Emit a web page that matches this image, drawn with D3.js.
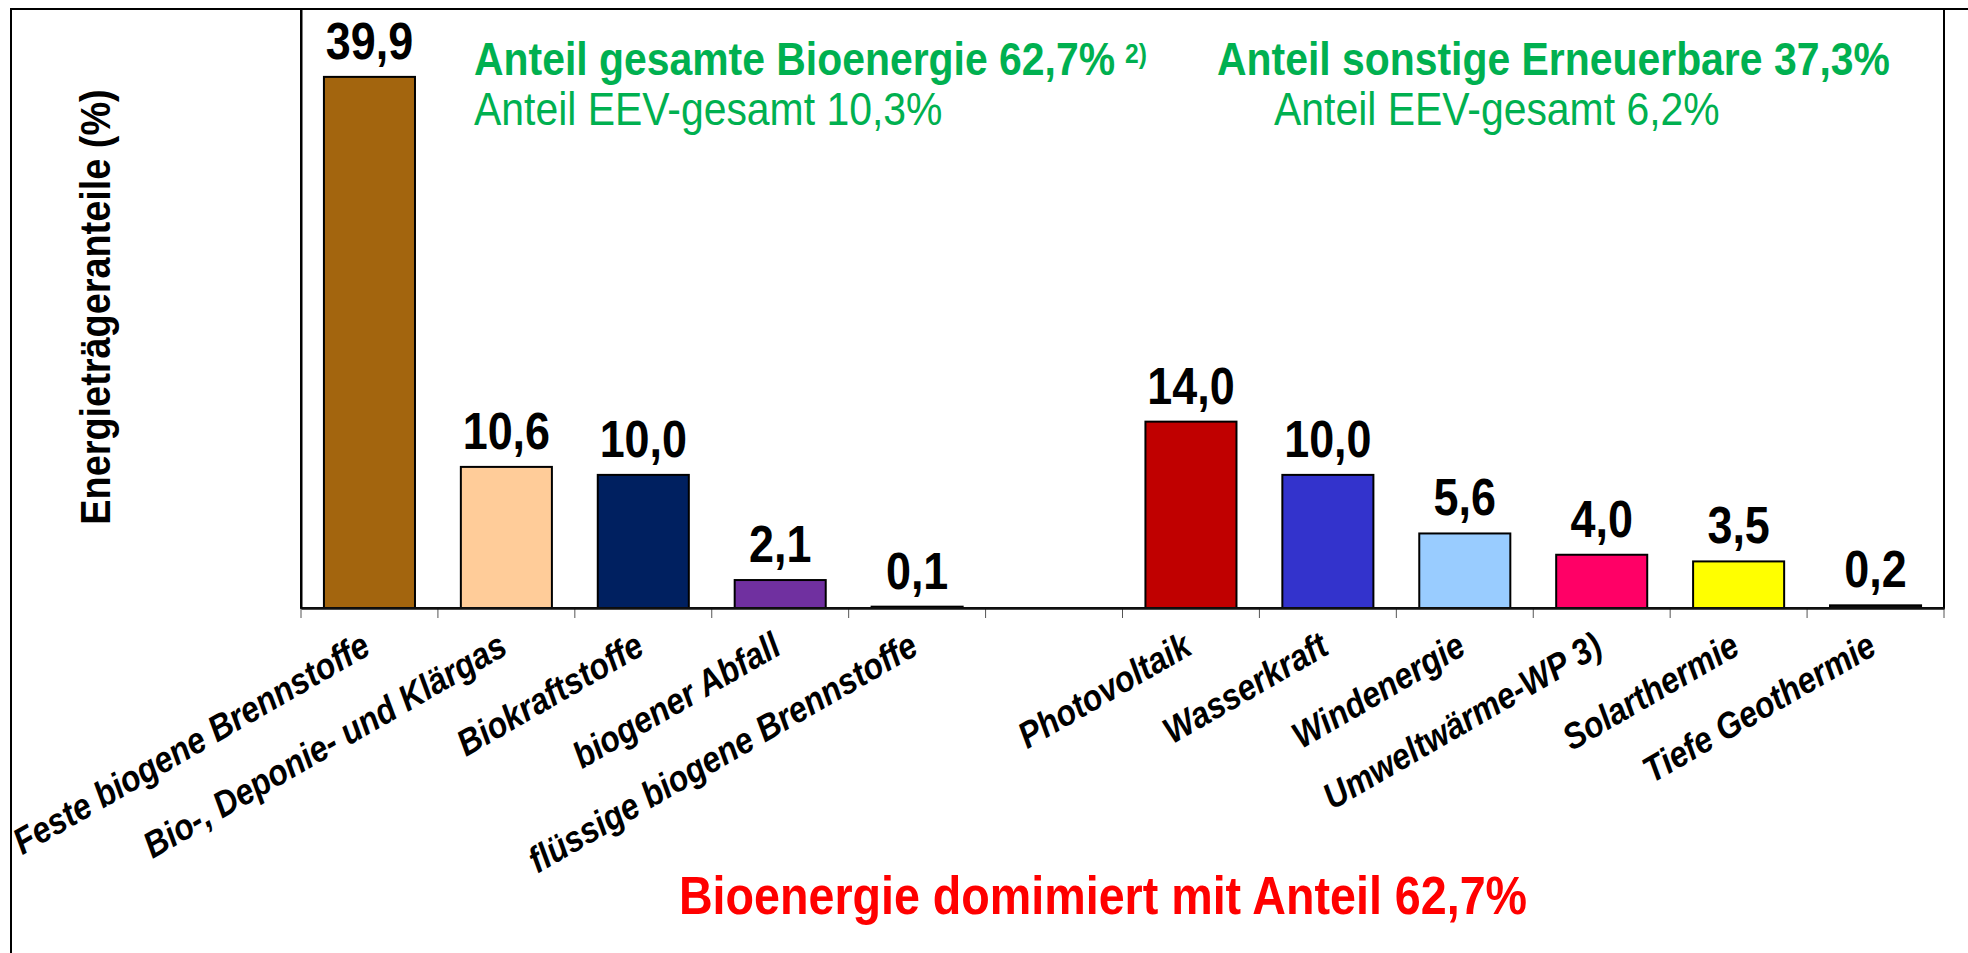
<!DOCTYPE html>
<html>
<head>
<meta charset="utf-8">
<script src="https://cdn.jsdelivr.net/npm/d3@7"></script>
<style>
  body { margin: 0; background: #fff; }
  text { font-family: "Liberation Sans", Arial, sans-serif; }
</style>
</head>
<body>
<div id="chart"></div>
<script>
// Values
var bioCategories = ["Feste biogene Brennstoffe", "Bio-, Deponie- und Klärgas", "Biokraftstoffe",
                     "biogener Abfall", "flüssige biogene Brennstoffe"];
var bioValues = [39.9, 10.6, 10.0, 2.1, 0.1];
var bioColors = ["#A3650E", "#FFCC99", "#002060", "#7030A0", "#333333"];

var otherCategories = ["Photovoltaik", "Wasserkraft", "Windenergie", "Umweltwärme-WP 3)",
                       "Solarthermie", "Tiefe Geothermie"];
var otherValues = [14.0, 10.0, 5.6, 4.0, 3.5, 0.2];
var otherColors = ["#C00000", "#3333CC", "#99CCFF", "#FF0066", "#FFFF00", "#111111"];

// the original text is a bit taller than plain Arial, so squeeze horizontally
var squeeze = 0.88;

window.onload = function() {
    // one table for the bars, with an empty slot between the two groups
    var rows = [];
    bioCategories.forEach(function(c, i) {
        rows.push({ key: "b" + i, label: c, value: bioValues[i], color: bioColors[i] });
    });
    rows.push({ key: "gap", label: "", value: null, color: "none" });
    otherCategories.forEach(function(c, i) {
        rows.push({ key: "o" + i, label: c, value: otherValues[i], color: otherColors[i] });
    });
    barChart(rows);
};

// adds a text at (x, y), squeezed, optionally rotated
function addText(svg, x, y, str, size, opts) {
    opts = opts || {};
    var t = svg.append("text")
       .attr("transform", "translate(" + x + "," + y + ")" +
             (opts.rotate ? " rotate(" + opts.rotate + ")" : "") +
             " scale(" + squeeze + ",1)")
       .attr("text-anchor", opts.anchor || "start")
       .attr("fill", opts.color || "#000")
       .style("font-size", size + "px")
       .style("font-weight", opts.bold ? "bold" : "normal")
       .text(str);
    return t;
}

function barChart(rows) {
    var w = 1968;
    var h = 953;
    var left = 301, right = 1944, top = 9, axisY = 608;

    var svg = d3.select("#chart")
                .append("svg")
                .attr("width", w)
                .attr("height", h);

    var x = d3.scaleBand()
              .domain(rows.map(function(d) { return d.key; }))
              .range([left, right])
              .paddingInner(0.335)
              .paddingOuter(0.1675);

    var y = d3.scaleLinear()
              .domain([0, 45])
              .range([axisY, top]);

    // outer frame (left and top edges visible)
    svg.append("path")
       .attr("d", "M11," + h + " V9 H" + w)
       .attr("fill", "none")
       .attr("stroke", "#000")
       .attr("stroke-width", 2);

    // plot area border
    svg.append("rect")
       .attr("x", left)
       .attr("y", top)
       .attr("width", right - left)
       .attr("height", axisY - top)
       .attr("fill", "none")
       .attr("stroke", "#000")
       .attr("stroke-width", 2);

    // tick marks between the categories
    var step = x.step();
    var bounds = rows.map(function(d) { return x(d.key) - (step - x.bandwidth()) / 2; });
    bounds.push(right);
    svg.selectAll("line.tick")
       .data(bounds)
       .enter()
       .append("line")
       .attr("class", "tick")
       .attr("x1", function(d) { return d; })
       .attr("x2", function(d) { return d; })
       .attr("y1", axisY)
       .attr("y2", axisY + 10)
       .attr("stroke", "#555")
       .attr("stroke-width", 1);

    var bars = rows.filter(function(d) { return d.value !== null; });

    svg.selectAll("rect.bar")
       .data(bars)
       .enter()
       .append("rect")
       .attr("class", "bar")
       .attr("x", function(d) { return x(d.key); })
       .attr("y", function(d) { return y(d.value); })
       .attr("width", x.bandwidth())
       .attr("height", function(d) { return axisY - y(d.value); })
       .attr("fill", function(d) { return d.color; })
       .attr("stroke", "#000")
       .attr("stroke-width", 2);

    // x axis line and category labels
    var xAxis = d3.axisBottom(x)
                  .tickSize(0)
                  .tickFormat(function(k) {
                      var r = rows.find(function(d) { return d.key === k; });
                      return r.label;
                  });
    var gx = svg.append("g")
                .attr("transform", "translate(0," + axisY + ")")
                .call(xAxis);
    gx.select(".domain").attr("stroke", "#111").attr("stroke-width", 2.5);
    gx.selectAll(".tick text")
      .attr("transform", "translate(3,45) rotate(-30) scale(" + squeeze + ",1)")
      .attr("y", 0)
      .attr("dy", 0)
      .attr("text-anchor", "end")
      .attr("fill", "#000")
      .style("font-family", "'Liberation Sans', Arial, sans-serif")
      .style("font-size", "36.5px")
      .style("font-weight", "bold")
      .style("font-style", "italic");

    // y axis: only the line
    var gy = svg.append("g")
                .attr("transform", "translate(" + left + ",0)")
                .call(d3.axisLeft(y).ticks(0).tickSizeOuter(0));
    gy.select(".domain").attr("stroke", "#000").attr("stroke-width", 2);

    // value labels
    var fmt = d3.format(".1f");
    bars.forEach(function(d) {
        addText(svg, x(d.key) + x.bandwidth() / 2, y(d.value) - 18,
                fmt(d.value).replace(".", ","), 51, { anchor: "middle", bold: true });
    });

    // y axis title
    addText(svg, 110, 307, "Energieträgeranteile (%)", 43,
            { anchor: "middle", bold: true, rotate: -90 });

    // green notes
    var green = "#00B050";
    addText(svg, 474, 75, "Anteil gesamte Bioenergie 62,7%", 46.5, { bold: true, color: green });
    addText(svg, 1125, 63, "2)", 28, { bold: true, color: green });
    addText(svg, 474, 125, "Anteil EEV-gesamt 10,3%", 46.5, { color: green });
    addText(svg, 1217, 75, "Anteil sonstige Erneuerbare 37,3%", 46.5, { bold: true, color: green });
    addText(svg, 1274, 125, "Anteil EEV-gesamt 6,2%", 46.5, { color: green });

    // red conclusion
    addText(svg, 1103, 914, "Bioenergie domimiert mit Anteil 62,7%", 53,
            { anchor: "middle", bold: true, color: "#FF0000" });
}
</script>
</body>
</html>
